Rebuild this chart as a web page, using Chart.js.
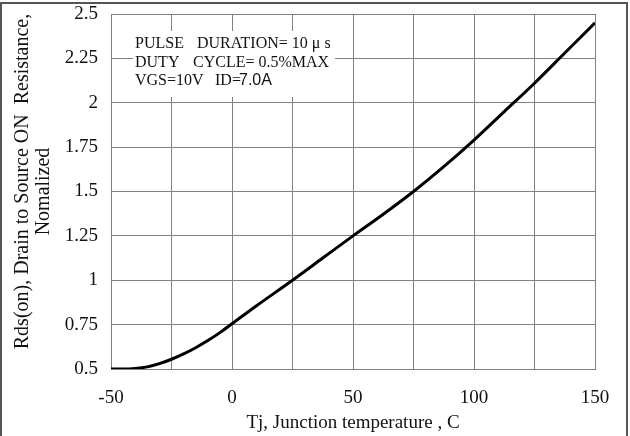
<!DOCTYPE html>
<html><head><meta charset="utf-8">
<script src="https://cdn.jsdelivr.net/npm/chart.js@4"></script>
<style>html,body{margin:0;padding:0;background:#fff}#wrap{width:630px;height:436px;position:relative}</style>
</head><body><div id="wrap"><canvas id="c" width="630" height="436"></canvas></div>
<script>
// Data
const tempC   = [-50, -45, -40, -35, -30, -25, -20, -15, -10, -5, 0, 10, 25, 37.5, 50, 62.5, 75, 87.5, 100, 112.5, 125, 137.5, 150];
const rdsNorm = [0.5, 0.5, 0.503, 0.512, 0.53, 0.555, 0.585, 0.62, 0.66, 0.705, 0.755, 0.855, 1.0, 1.125, 1.25, 1.372, 1.5, 1.64, 1.79, 1.95, 2.11, 2.28, 2.45];

const xTickValues = [-50, -25, 0, 25, 50, 75, 100, 125, 150];
const xTickLabels = ['-50', '', '0', '', '50', '', '100', '', '150'];
const yTickValues = [0.5, 0.75, 1, 1.25, 1.5, 1.75, 2, 2.25, 2.5];
const yTickLabels = ['0.5', '0.75', '1', '1.25', '1.5', '1.75', '2', '2.25', '2.5'];

const xTitle = 'Tj, Junction temperature , C';
const yTitle = ['\u2002\u2002Rds(on), Drain to Source ON  Resistance,', 'Nomalized'];
const noteLines = [
  [['PULSE', 0], ['DURATION= 10 \u03bc s', 62]],
  [['DUTY', 0], ['CYCLE= 0.5%MAX', 58]],
  [['VGS=10V', 0], ['ID=', 80], ['7.0A', 104, 'sans']]
];

const SERIF = '"Liberation Serif", "Times New Roman", serif';
const SANS = '"Liberation Sans", Arial, sans-serif';

const notePlugin = {
  id: 'note',
  beforeDatasetsDraw(chart) {
    const ctx = chart.ctx;
    ctx.save();
    ctx.fillStyle = '#fff';
    ctx.fillRect(133, 31, 202, 66);
    ctx.fillStyle = '#111';
    ctx.textBaseline = 'alphabetic';
    noteLines.forEach((line, i) => {
      const y = 48 + i * 18.5;
      line.forEach(([txt, dx, f]) => {
        ctx.font = (f === 'sans' ? '16px ' + SANS : '16px ' + SERIF);
        ctx.fillText(txt, 135 + dx, y);
      });
    });
    ctx.restore();
  },
  afterDraw(chart) {
    const ctx = chart.ctx;
    ctx.save();
    ctx.strokeStyle = '#555';
    ctx.lineWidth = 2;
    ctx.strokeRect(1, 3, 626, 440);
    ctx.restore();
  }
};

const gridColor = '#808080';

new Chart(document.getElementById('c'), {
  type: 'scatter',
  data: {
    datasets: [{
      data: tempC.map((t, i) => ({x: t, y: rdsNorm[i]})),
      showLine: true,
      borderColor: '#000',
      borderWidth: 3,
      pointRadius: 0,
      cubicInterpolationMode: 'monotone',
      fill: false
    }]
  },
  options: {
    responsive: false,
    devicePixelRatio: 1,
    animation: false,
    layout: {padding: {left: 0, right: 35, top: 14, bottom: 0}},
    plugins: {legend: {display: false}, tooltip: {enabled: false}},
    scales: {
      x: {
        type: 'linear', min: -50, max: 150,
        afterBuildTicks(s) { s.ticks = xTickValues.map(v => ({value: v})); },
        afterFit(s) { s.height = 67; s.paddingLeft = 0; s.paddingRight = 0; },
        ticks: {
          autoSkip: false, maxRotation: 0, padding: 18, color: '#111',
          font: {family: SERIF, size: 19},
          callback: (v, i) => xTickLabels[i]
        },
        grid: {color: gridColor, lineWidth: 1, drawTicks: false},
        border: {color: gridColor, width: 1},
        title: {display: true, text: xTitle, color: '#111', font: {family: SERIF, size: 19}, padding: {top: 0, bottom: 2}}
      },
      y: {
        type: 'linear', min: 0.5, max: 2.5,
        afterBuildTicks(s) { s.ticks = yTickValues.map(v => ({value: v})); },
        afterFit(s) { s.width = 111; s.paddingTop = 0; s.paddingBottom = 0; },
        ticks: {
          autoSkip: false, padding: 13, color: '#111',
          font: {family: SERIF, size: 19},
          callback: (v, i) => yTickLabels[i]
        },
        grid: {color: gridColor, lineWidth: 1, drawTicks: false},
        border: {color: gridColor, width: 1},
        title: {display: true, text: yTitle, color: '#111', font: {family: SERIF, size: 20, lineHeight: 1.05}, padding: {top: 12, bottom: 0}}
      }
    }
  },
  plugins: [notePlugin]
});
</script>
</body></html>
